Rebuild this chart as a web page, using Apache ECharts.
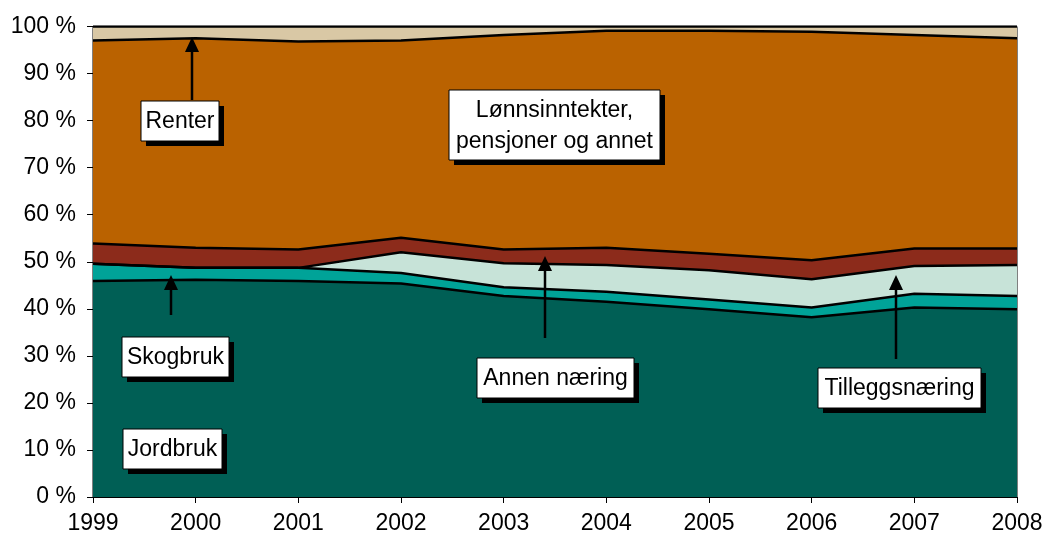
<!DOCTYPE html>
<html>
<head>
<meta charset="utf-8">
<script src="https://cdn.jsdelivr.net/npm/echarts@6/dist/echarts.min.js"></script>
<style>
  html, body { margin: 0; padding: 0; background: #fff; }
  #chart { width: 1050px; height: 544px; }
</style>
</head>
<body>
<div id="chart"></div>
<script>
// andel av inntekt, prosent
var years = ['1999','2000','2001','2002','2003','2004','2005','2006','2007','2008'];
var jordbruk = [45.9, 46.2, 45.9, 45.4, 42.7, 41.5, 39.9, 38.2, 40.3, 39.9];
var skogbruk = [3.7, 2.5, 2.8, 2.2, 1.9, 2.1, 2.1, 2.1, 2.9, 2.8];
var annenNaering = [0, 0, 0, 4.4, 5.1, 5.7, 6.2, 6.0, 5.9, 6.6];
var tilleggsnaering = [4.3, 4.3, 3.9, 3.1, 2.9, 3.7, 3.5, 4.0, 3.7, 3.5];
var lonn = [43.1, 44.5, 44.2, 41.9, 45.6, 46.1, 47.4, 48.6, 45.4, 44.7];
var renter = [3.0, 2.5, 3.2, 3.0, 1.8, 0.9, 0.9, 1.1, 1.8, 2.5];

var FONT = '"Liberation Sans", Arial, sans-serif';

function area(name, data, color) {
	return {
		name: name,
		type: 'line',
		stack: 'total',
		data: data,
		symbol: 'none',
		lineStyle: { color: '#000', width: 2.5 },
		areaStyle: { color: color, opacity: 1 },
		emphasis: { disabled: true }
	};
}

// tekstboks med skygge
function box(x, y, w, h, text) {
	return {
		type: 'group',
		x: x, y: y,
		children: [
			{ type: 'rect', z: 100, shape: { x: 5, y: 5, width: w, height: h }, style: { fill: '#000' } },
			{ type: 'rect', z: 101, shape: { x: 0, y: 0, width: w, height: h }, style: { fill: '#fff', stroke: '#000', lineWidth: 1 } },
			{ type: 'text', z: 102, x: w / 2, y: h / 2 + 1, style: { text: text, font: '23px ' + FONT, fill: '#000', align: 'center', verticalAlign: 'middle', lineHeight: 31 } }
		]
	};
}

// pil oppover
function arrow(x, y1, y2) {
	return {
		type: 'group',
		children: [
			{ type: 'line', z: 100, shape: { x1: x, y1: y1, x2: x, y2: y2 + 10 }, style: { stroke: '#000', lineWidth: 2.5 } },
			{ type: 'polygon', z: 100, shape: { points: [[x, y2], [x - 7, y2 + 15], [x + 7, y2 + 15]] }, style: { fill: '#000' } }
		]
	};
}

var chart = echarts.init(document.getElementById('chart'));
var option = {
	animation: false,
	grid: { left: 93, right: 33, top: 26.5, bottom: 47, show: true, borderColor: '#000', borderWidth: 1 },
	xAxis: {
		type: 'category',
		data: years,
		boundaryGap: false,
		axisLine: { lineStyle: { color: '#000', width: 1 } },
		axisTick: { show: true, alignWithLabel: true, length: 6, lineStyle: { color: '#000' } },
		axisLabel: { color: '#000', fontSize: 23, fontFamily: FONT, margin: 15 },
		splitLine: { show: false }
	},
	yAxis: {
		type: 'value',
		min: 0, max: 100, interval: 10,
		axisLine: { show: true, lineStyle: { color: '#000', width: 1 } },
		axisTick: { show: true, length: 6, lineStyle: { color: '#000' } },
		axisLabel: { color: '#000', fontSize: 23, fontFamily: FONT, margin: 17, formatter: '{value} %' },
		splitLine: { show: false }
	},
	series: [
		area('Jordbruk', jordbruk, '#005F55'),
		area('Skogbruk', skogbruk, '#00A398'),
		area('Annen næring', annenNaering, '#C7E3D8'),
		area('Tilleggsnæring', tilleggsnaering, '#8C2B1B'),
		area('Lønnsinntekter, pensjoner og annet', lonn, '#BA6200'),
		area('Renter', renter, '#D9C8A5')
	],
	graphic: [
		arrow(192, 100, 37),
		arrow(171, 315, 275),
		arrow(545, 338, 256),
		arrow(896, 359, 275),
		box(141, 101, 78, 40, 'Renter'),
		box(449, 90, 211, 70, 'Lønnsinntekter,\npensjoner og annet'),
		box(122, 337, 107, 40, 'Skogbruk'),
		box(123, 429, 99, 40, 'Jordbruk'),
		box(477, 358, 157, 40, 'Annen næring'),
		box(818, 368, 163, 40, 'Tilleggsnæring')
	]
};
chart.setOption(option);
</script>
</body>
</html>
